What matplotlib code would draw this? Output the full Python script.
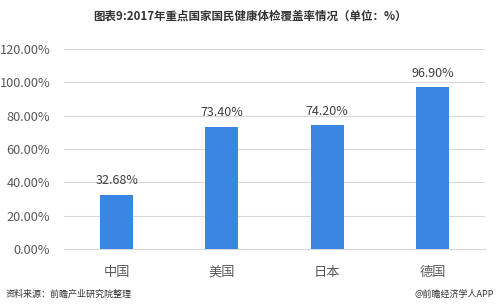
import matplotlib
matplotlib.use("Agg")
import matplotlib.pyplot as plt

plt.rcParams['font.family'] = ['Noto Sans CJK SC', 'DejaVu Sans']

categories = ["中国", "美国", "日本", "德国"]
values = [32.68, 73.40, 74.20, 96.90]
yticks = [0, 20, 40, 60, 80, 100, 120]

fig = plt.figure(figsize=(5, 3.08), dpi=100)
ax = fig.add_axes([64/500, 1-249/308, 421/500, 200/308])

x = range(len(categories))
ax.bar(x, values, width=0.315, color='#3C86E3', zorder=3)
for xi, v in zip(x, values):
    ax.text(xi, v + 4.5, f"{v:.2f}%", ha='center', va='bottom', fontsize=9, color='#404040')

ax.set_xlim(-0.5, len(categories) - 0.5)
ax.set_ylim(0, 120)
ax.set_yticks(yticks)
ax.set_yticklabels([f"{t:.2f}%" for t in yticks], fontsize=9.2, color='#595959')
ax.set_xticks(list(x))
ax.set_xticklabels(categories, fontsize=9.5, color='#595959')
ax.tick_params(length=0)
ax.tick_params(axis='x', pad=12)
ax.tick_params(axis='y', pad=10)
ax.grid(axis='y', color='#D9D9D9', linewidth=0.8, zorder=0)
for s in ['top', 'right', 'left']:
    ax.spines[s].set_visible(False)
ax.spines['bottom'].set_color('#D9D9D9')

fig.text(0.5, 1-16/308, "图表9:2017年重点国家国民健康体检覆盖率情况（单位：%）", ha='center', va='center',
         fontsize=8.3, fontweight='bold', color='#333333')
fig.text(6/500, 1-294/308, "资料来源：前瞻产业研究院整理", ha='left', va='center', fontsize=6.5,
         style='italic', color='#333333')
fig.text(494/500, 1-294/308, "@前瞻经济学人APP", ha='right', va='center', fontsize=6.5, color='#333333')

fig.savefig("out.png", dpi=100)
